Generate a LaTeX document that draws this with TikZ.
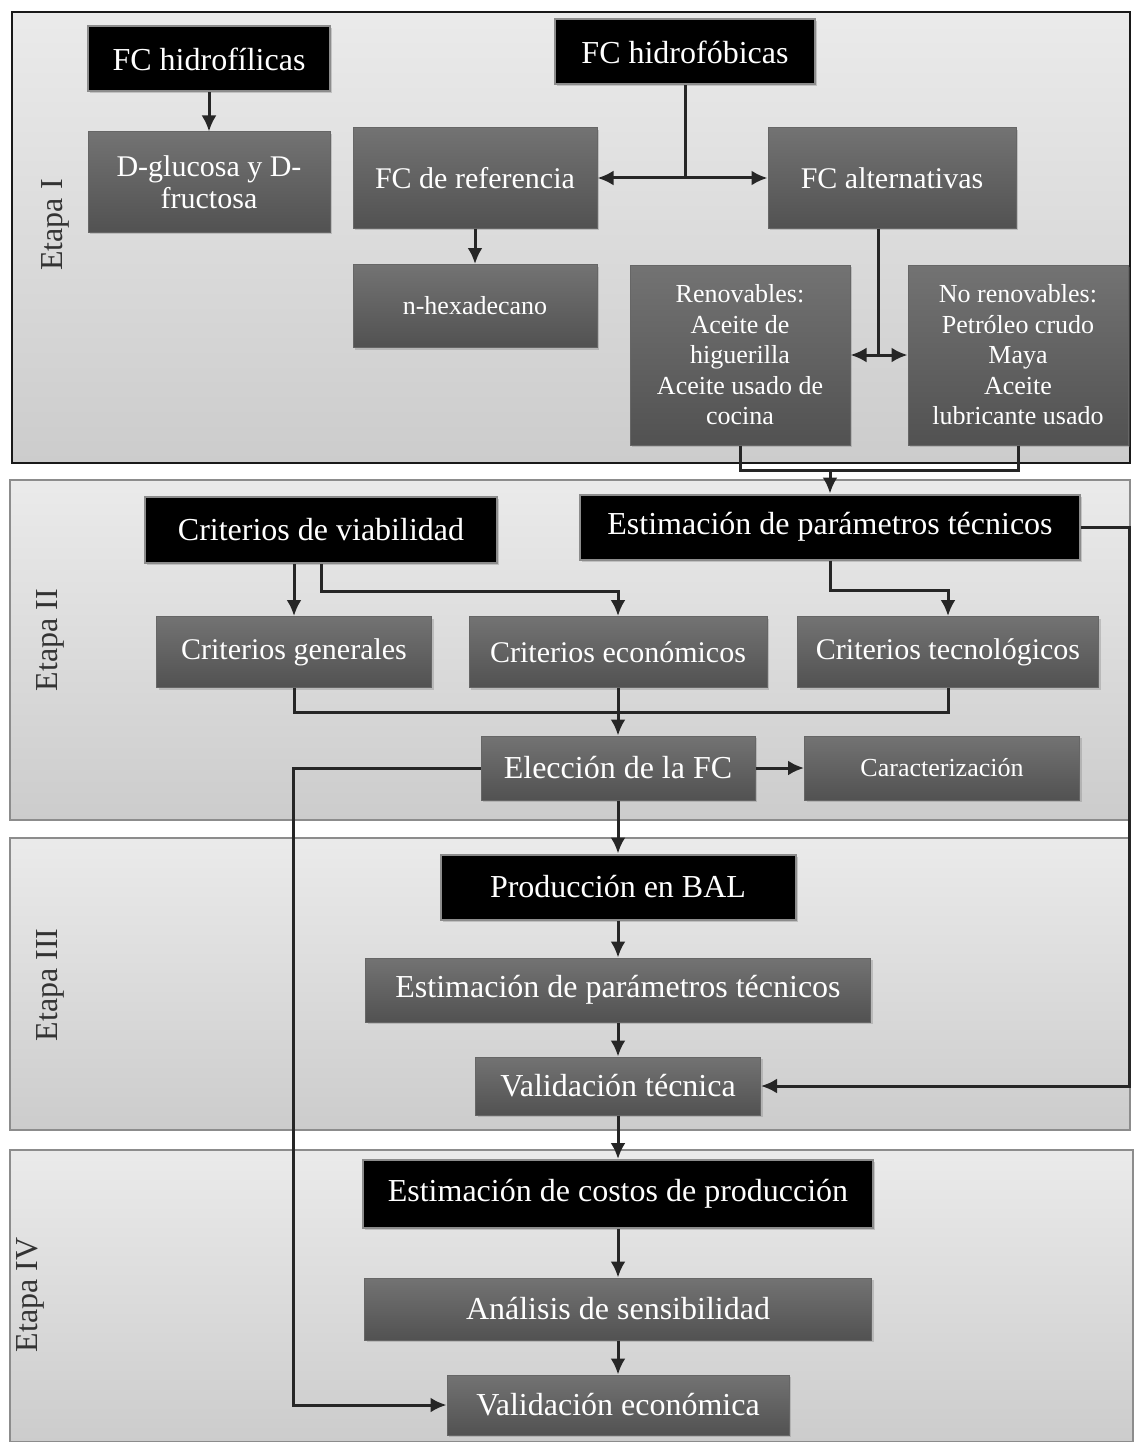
\documentclass[tikz,border=0pt]{standalone}
\usepackage{fontspec}
\setmainfont{Liberation Serif}
\usetikzlibrary{arrows.meta}
\usetikzlibrary{shadows}

\begin{document}
\begin{tikzpicture}[x=1pt,y=-1pt]
        \tikzset{box/.style = {shape=rectangle, text=white, align=center, inner sep=0pt,
            draw=black!60, line width=1pt, top color=black!55, bottom color=black!68,
            drop shadow={opacity=0.35, shadow xshift=2pt, shadow yshift=-2pt},
            font=\fontsize{32}{35}\selectfont}}
        \tikzset{head/.style = {box, fill=black, top color=black, bottom color=black, draw=black!45, line width=2pt}}
        \tikzset{midtxt/.style = {font=\fontsize{30}{32}\selectfont}}
        \tikzset{smalltxt/.style = {font=\fontsize{26}{30.5}\selectfont}}
        \tikzset{stage/.style = {rotate=90, text=black!80, font=\fontsize{32}{35}\selectfont}}
        \tikzset{panel/.style = {top color=black!8, bottom color=black!20, draw=black!45, line width=1.5pt}}
        \tikzset{edge/.style = {->, > = {Latex[length=16pt, width=15pt]}, line width=3pt, draw=black!85}}
        \tikzset{link/.style = {line width=3pt, draw=black!85}}
        \useasboundingbox (0,0) rectangle (1133,1442);

        % stages
        \path[panel, draw=black!90, line width=2pt] (12,12) rectangle (1130,463);
        \path[panel] (10,480) rectangle (1130,820);
        \path[panel] (10,838) rectangle (1130,1130);
        \path[panel] (10,1150) rectangle (1133,1442);
        \node[stage] (st1) at (55,225) {Etapa I};
        \node[stage] (st2) at (50,640) {Etapa II};
        \node[stage] (st3) at (50,985) {Etapa III};
        \node[stage] (st4) at (30,1295) {Etapa IV};

        % Etapa I
        \node[head, minimum width=242, minimum height=65] (hidrofil) at (209,59) {FC hidrofílicas};
        \node[head, minimum width=260, minimum height=65] (hidrofob) at (685,52) {FC hidrofóbicas};
        \node[box, midtxt, minimum width=242, minimum height=100] (glucosa) at (209,182) {D-glucosa y D-\\fructosa};
        \node[box, midtxt, minimum width=244, minimum height=100] (referencia) at (475,178) {FC de referencia};
        \node[box, midtxt, minimum width=248, minimum height=100] (alternativas) at (892,178) {FC alternativas};
        \node[box, smalltxt, minimum width=244, minimum height=83] (hexadecano) at (475,306) {n-hexadecano};
        \node[box, smalltxt, minimum width=220, minimum height=180] (renov) at (740,355)
            {Renovables:\\Aceite de\\higuerilla\\Aceite usado de\\cocina};
        \node[box, smalltxt, minimum width=220, minimum height=180] (norenov) at (1018,355)
            {No renovables:\\Petróleo crudo\\Maya\\Aceite\\lubricante usado};

        % Etapa II
        \node[head, minimum width=352, minimum height=66] (viabilidad) at (321,530) {Criterios de viabilidad};
        \node[head, minimum width=500, minimum height=65] (estimII) at (830,527) {Estimación de parámetros técnicos};
        \node[box, midtxt, minimum width=275, minimum height=71] (generales) at (294,652) {Criterios generales};
        \node[box, midtxt, minimum width=298, minimum height=71] (economicos) at (618,652) {Criterios económicos};
        \node[box, midtxt, minimum width=301, minimum height=71] (tecnologicos) at (948,652) {Criterios tecnológicos};
        \node[box, minimum width=274, minimum height=64] (eleccion) at (618,768) {Elección de la FC};
        \node[box, smalltxt, minimum width=275, minimum height=64] (caract) at (942,768) {Caracterización};

        % Etapa III
        \node[head, minimum width=355, minimum height=65] (produccion) at (618,887) {Producción en BAL};
        \node[box, minimum width=505, minimum height=64] (estimIII) at (618,990) {Estimación de parámetros técnicos};
        \node[box, minimum width=285, minimum height=58] (valtec) at (618,1086) {Validación técnica};

        % Etapa IV
        \node[head, minimum width=510, minimum height=68] (costos) at (618,1194) {Estimación de costos de producción};
        \node[box, minimum width=507, minimum height=62] (analisis) at (618,1309) {Análisis de sensibilidad};
        \node[box, minimum width=342, minimum height=60] (valeco) at (618,1405) {Validación económica};

        \coordinate (join) at (830,470);
        \coordinate (bend) at (293,768);

        % edges
        \draw[edge] (hidrofil) -- (glucosa);
        \draw[edge] (hidrofob.south) |- (referencia.east);
        \draw[edge] (hidrofob.south) |- (alternativas.west);
        \draw[edge] (referencia) -- (hexadecano);
        \draw[edge] ([xshift=-14pt]alternativas.south) |- (renov.east);
        \draw[edge] ([xshift=-14pt]alternativas.south) |- (norenov.west);
        \draw[link] (renov.south) |- (join);
        \draw[link] (norenov.south) |- (join);
        \draw[edge] (join) -- (estimII);

        \draw[edge] (generales.north |- viabilidad.south) -- (generales.north);
        \draw[edge] (viabilidad.south) -- ++(0,27) -| (economicos.north);
        \draw[edge] (estimII.south) -- ++(0,30) -| (tecnologicos.north);
        \draw[edge] (estimII.east) -- ++(48,0) |- (valtec.east);
        \draw[link] (generales.south) -- ++(0,24) -| (tecnologicos.south);
        \draw[edge] (economicos) -- (eleccion);
        \draw[edge] (eleccion) -- (caract);
        \draw[edge] (eleccion.west) -- (bend) |- (valeco.west);

        \draw[edge] (eleccion) -- (produccion);
        \draw[edge] (produccion) -- (estimIII);
        \draw[edge] (estimIII) -- (valtec);
        \draw[edge] (valtec) -- (costos);
        \draw[edge] (costos) -- (analisis);
        \draw[edge] (analisis) -- (valeco);
\end{tikzpicture}
\end{document}
